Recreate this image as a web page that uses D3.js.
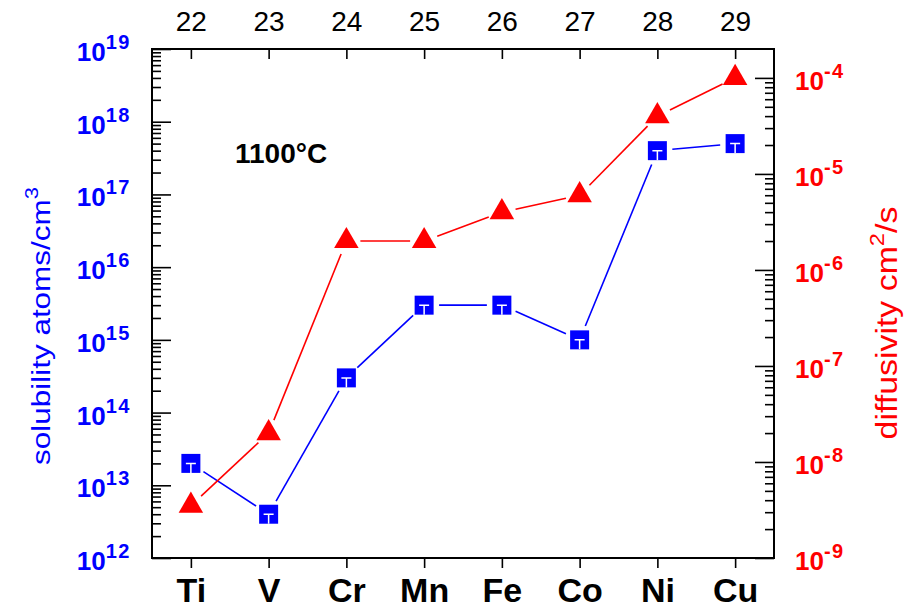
<!DOCTYPE html>
<html>
<head>
<meta charset="utf-8">
<script src="https://cdn.jsdelivr.net/npm/d3@7"></script>
<style>
  body { margin: 0; background: #fff; }
  svg { display: block; font-family: "Liberation Sans", Arial, sans-serif; }
</style>
</head>
<body>
<div class="chart"></div>
<script>
// values
var elements = ["Ti", "V", "Cr", "Mn", "Fe", "Co", "Ni", "Cu"];
var atomicNumbers = [22, 23, 24, 25, 26, 27, 28, 29];
var solubility = [2e13, 4e12, 3e14, 3e15, 3e15, 1e15, 4e17, 5e17];
var diffusivity = [3.5e-9, 2e-8, 2e-6, 2e-6, 4e-6, 6e-6, 4e-5, 1e-4];
var solubilityExp = [12, 13, 14, 15, 16, 17, 18, 19];
var diffusivityExp = [-9, -8, -7, -6, -5, -4];
var tempLabel = "1100°C";

var svgWidth = 908;
var svgHeight = 610;
var margin = { top: 49, right: 134, bottom: 52, left: 152 };
var width = svgWidth - margin.left - margin.right;
var height = svgHeight - margin.top - margin.bottom;

var blue = "#0000ff";
var red = "#ff0000";

var svg = d3.select(".chart")
  .append("svg")
  .attr("width", svgWidth)
  .attr("height", svgHeight);

var chart = svg.append("g")
  .attr("transform", "translate(" + margin.left + "," + margin.top + ")");

// scales
var xScale = d3.scaleLinear().domain([21.5, 29.5]).range([0, width]);
var yLeft = d3.scaleLog().domain([1e12, 1e19]).range([height, 0]);
var yRight = d3.scaleLog().domain([1e-9, 2e-4]).range([height, 0]);

function minorTicks(domain) {
  var out = [];
  var lo = Math.floor(Math.log10(domain[0]));
  var hi = Math.ceil(Math.log10(domain[1]));
  for (var k = lo; k <= hi; k++) {
    for (var m = 2; m <= 9; m++) {
      var v = m * Math.pow(10, k);
      if (v > domain[0] * 1.001 && v < domain[1] * 0.999) out.push(v);
    }
  }
  return out;
}

var pow10 = function (e) { return Math.pow(10, e); };

// left axis (ticks point inward)
chart.append("g").attr("class", "axis")
  .call(d3.axisLeft(yLeft).tickValues(solubilityExp.map(pow10)).tickSize(-19).tickSizeOuter(0).tickFormat(""));
chart.append("g").attr("class", "axis")
  .call(d3.axisLeft(yLeft).tickValues(minorTicks(yLeft.domain())).tickSize(-9).tickSizeOuter(0).tickFormat(""));

// right axis
chart.append("g").attr("class", "axis")
  .attr("transform", "translate(" + width + ",0)")
  .call(d3.axisRight(yRight).tickValues(diffusivityExp.map(pow10)).tickSize(-19).tickSizeOuter(0).tickFormat(""));
chart.append("g").attr("class", "axis")
  .attr("transform", "translate(" + width + ",0)")
  .call(d3.axisRight(yRight).tickValues(minorTicks(yRight.domain())).tickSize(-9).tickSizeOuter(0).tickFormat(""));

// top axis: atomic number
var topAxis = chart.append("g").attr("class", "axis top")
  .call(d3.axisTop(xScale).tickValues(atomicNumbers).tickSize(-10).tickSizeOuter(0).tickPadding(18).tickFormat(d3.format("d")));
topAxis.selectAll("text")
  .attr("font-size", 28)
  .attr("fill", "#000");

// bottom axis: element symbols
var bottomAxis = chart.append("g").attr("class", "axis bottom")
  .attr("transform", "translate(0," + height + ")")
  .call(d3.axisBottom(xScale).tickValues(atomicNumbers).tickSize(10).tickSizeOuter(0).tickPadding(10)
    .tickFormat(function (d, i) { return elements[i]; }));
bottomAxis.selectAll("text")
  .attr("font-size", 34)
  .attr("font-weight", "bold")
  .attr("fill", "#000");

chart.selectAll(".axis .domain").remove();
chart.selectAll(".axis line").attr("stroke", "#000").attr("stroke-width", 1.6);

// frame
chart.append("rect")
  .attr("width", width)
  .attr("height", height)
  .attr("fill", "none")
  .attr("stroke", "#000")
  .attr("stroke-width", 2);

// power-of-ten labels
function powerLabel(sel, exp) {
  sel.append("tspan").text("10");
  sel.append("tspan")
    .attr("dy", -12)
    .attr("font-size", 20)
    .attr("letter-spacing", 1.5)
    .text(exp);
}

chart.selectAll(".left-label")
  .data(solubilityExp)
  .enter()
  .append("text")
  .attr("class", "left-label")
  .attr("x", -21)
  .attr("y", function (d) { return yLeft(pow10(d)) + 12; })
  .attr("text-anchor", "end")
  .attr("font-size", 26)
  .attr("font-weight", "bold")
  .attr("fill", blue)
  .each(function (d) { powerLabel(d3.select(this), d); });

chart.selectAll(".right-label")
  .data(diffusivityExp)
  .enter()
  .append("text")
  .attr("class", "right-label")
  .attr("x", width + 21)
  .attr("y", function (d) { return yRight(pow10(d)) + 12; })
  .attr("text-anchor", "start")
  .attr("font-size", 26)
  .attr("font-weight", "bold")
  .attr("fill", red)
  .each(function (d) { powerLabel(d3.select(this), d); });

// axis titles, stretched to the length seen in the figure
function axisTitle(x, cy, color, size, targetLen, parts) {
  var t = svg.append("text")
    .attr("text-anchor", "middle")
    .attr("font-size", size)
    .attr("fill", color);
  parts.forEach(function (p) {
    var s = t.append("tspan").text(p.text);
    if (p.sup) s.attr("dy", -size * 0.45).attr("font-size", size * 0.7);
    if (p.reset) s.attr("dy", size * 0.45);
  });
  var len = t.node().getComputedTextLength();
  var k = targetLen / len;
  t.attr("transform", "translate(" + x + "," + cy + ") rotate(-90) scale(" + k + ",1)");
}

axisTitle(50, 326, blue, 26, 278, [
  { text: "solubility atoms/cm" },
  { text: "3", sup: true }
]);
axisTitle(897, 323, red, 29, 233, [
  { text: "diffusivity cm" },
  { text: "2", sup: true },
  { text: "/s", reset: true }
]);

// temperature annotation
svg.append("text")
  .attr("x", 235)
  .attr("y", 163)
  .attr("font-size", 28)
  .attr("font-weight", "bold")
  .attr("fill", "#000")
  .text(tempLabel);

// connecting lines stop short of the symbols
function gappedSegments(xs, ys, gap) {
  var segs = [];
  for (var i = 0; i < xs.length - 1; i++) {
    var x1 = xs[i], y1 = ys[i], x2 = xs[i + 1], y2 = ys[i + 1];
    var dx = x2 - x1, dy = y2 - y1;
    var L = Math.sqrt(dx * dx + dy * dy);
    if (L <= 2 * gap) continue;
    var ux = dx / L, uy = dy / L;
    segs.push([[x1 + ux * gap, y1 + uy * gap], [x2 - ux * gap, y2 - uy * gap]]);
  }
  return segs;
}

var px = atomicNumbers.map(function (d) { return xScale(d); });
var pySol = solubility.map(function (d) { return yLeft(d); });
var pyDif = diffusivity.map(function (d) { return yRight(d); });

var line = d3.line();

chart.selectAll(".sol-line")
  .data(gappedSegments(px, pySol, 15))
  .enter()
  .append("path")
  .attr("class", "sol-line")
  .attr("d", line)
  .attr("stroke", blue)
  .attr("stroke-width", 1.6)
  .attr("fill", "none");

chart.selectAll(".dif-line")
  .data(gappedSegments(px, pyDif, 14))
  .enter()
  .append("path")
  .attr("class", "dif-line")
  .attr("d", line)
  .attr("stroke", red)
  .attr("stroke-width", 1.6)
  .attr("fill", "none");

// blue squares with the small white cap mark
var squares = chart.selectAll(".sol-point")
  .data(solubility)
  .enter()
  .append("g")
  .attr("class", "sol-point")
  .attr("transform", function (d, i) { return "translate(" + px[i] + "," + yLeft(d) + ")"; });

squares.append("path")
  .attr("d", d3.symbol().type(d3.symbolSquare).size(361))
  .attr("fill", blue);
squares.append("path")
  .attr("d", "M-5,0H5M0,0V9.5")
  .attr("stroke", "#fff")
  .attr("stroke-width", 1.5)
  .attr("fill", "none");

// red triangles
chart.selectAll(".dif-point")
  .data(diffusivity)
  .enter()
  .append("path")
  .attr("class", "dif-point")
  .attr("transform", function (d, i) { return "translate(" + px[i] + "," + yRight(d) + ")"; })
  .attr("d", d3.symbol().type(d3.symbolTriangle).size(260))
  .attr("fill", red);
</script>
</body>
</html>
